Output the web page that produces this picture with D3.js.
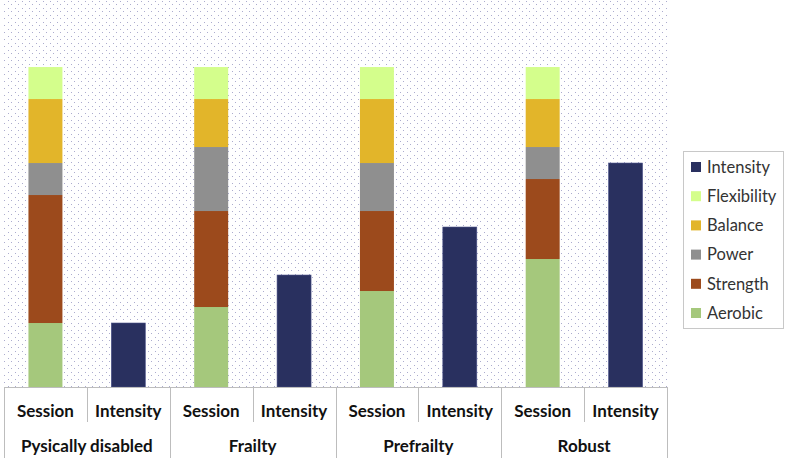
<!DOCTYPE html>
<html><head><meta charset="utf-8">
<script src="https://cdn.jsdelivr.net/npm/d3@7"></script>
<style>html,body{margin:0;padding:0;background:#fff;}svg{display:block;}</style>
</head><body>
<svg id="chart" width="789" height="465"></svg>
<script>
const groups = ["Pysically disabled", "Frailty", "Prefrailty", "Robust"];
const subLabels = ["Session", "Intensity"];
const aerobic     = [4, 5, 6, 8];
const strength    = [8, 6, 5, 5];
const power       = [2, 4, 3, 2];
const balance     = [4, 3, 4, 3];
const flexibility = [2, 2, 2, 2];
const intensity   = [4, 7, 10, 14];
const stackSeries = ["Aerobic", "Strength", "Power", "Balance", "Flexibility"];
const legendOrder = ["Intensity", "Flexibility", "Balance", "Power", "Strength", "Aerobic"];
const colors = {Aerobic:"#a5c87c", Strength:"#9c4a1c", Power:"#8f8f8f", Balance:"#e2b52a", Flexibility:"#d4fe8c", Intensity:"#29305f"};

const svg = d3.select("#chart");
const pLeft = 4, pRight = 667, pTop = 0, pBottom = 387;

// pattern
const defs = svg.append("defs");
const pat = defs.append("pattern").attr("id","dots").attr("patternUnits","userSpaceOnUse")
  .attr("width",7).attr("height",7);
pat.append("rect").attr("x",0).attr("y",0).attr("width",7).attr("height",7).attr("fill","#fff");
pat.append("rect").attr("x",1).attr("y",1).attr("width",1).attr("height",1).attr("fill","#acacce");
pat.append("rect").attr("x",4).attr("y",4).attr("width",1).attr("height",1).attr("fill","#acacce");
svg.append("rect").attr("x",pLeft).attr("y",pTop).attr("width",pRight-pLeft).attr("height",pBottom-pTop).attr("fill","url(#dots)");

const keys = [];
groups.forEach(g => subLabels.forEach(s => keys.push(g + "|" + s)));
const x = d3.scaleBand().domain(keys).range([pLeft, pRight]).paddingInner(0.59).paddingOuter(0.295);
const step = x.step();
const y = d3.scaleLinear().domain([0, 24.19]).range([pBottom, pTop]);

// stacked data
const rows = groups.map((g,i) => ({key: g+"|Session", Aerobic:aerobic[i], Strength:strength[i], Power:power[i], Balance:balance[i], Flexibility:flexibility[i]}));
const stacked = d3.stack().keys(stackSeries)(rows);
stacked.forEach(layer => {
  svg.append("g").selectAll("rect").data(layer).join("rect")
    .attr("x", d => x(d.data.key))
    .attr("width", x.bandwidth())
    .attr("y", d => y(d[1]))
    .attr("height", d => y(d[0]) - y(d[1]))
    .attr("fill", colors[layer.key]);
});
svg.append("g").selectAll("rect").data(groups).join("rect")
  .attr("x", (g) => x(g+"|Intensity"))
  .attr("width", x.bandwidth())
  .attr("y", (g,i) => y(intensity[i]))
  .attr("height", (g,i) => pBottom - y(intensity[i]))
  .attr("fill", colors.Intensity)
  .attr("stroke", "#4a5088").attr("stroke-width", 0.6);

// axis
const ax = svg.append("g").attr("stroke", "#bdbdbd").attr("stroke-width", 1);
ax.append("line").attr("x1", pLeft).attr("x2", pRight).attr("y1", pBottom+0.5).attr("y2", pBottom+0.5);
groups.forEach((g,i) => {
  const gx = Math.round(x(g+"|Session") - x.paddingOuter()*step);
  ax.append("line").attr("x1", gx+0.5).attr("x2", gx+0.5).attr("y1", pBottom).attr("y2", 458);
  const sx = Math.round(x(g+"|Session") + x.bandwidth()/2 + step/2);
  ax.append("line").attr("x1", sx+0.5).attr("x2", sx+0.5).attr("y1", pBottom).attr("y2", 422);
});
ax.append("line").attr("x1", pRight+0.5).attr("x2", pRight+0.5).attr("y1", pBottom).attr("y2", 458);

const tx = svg.append("g").attr("font-family","Lato, 'Open Sans', sans-serif").attr("font-weight","bold")
  .attr("font-size", 17).attr("fill","#111").attr("text-anchor","middle");
keys.forEach(k => {
  tx.append("text").attr("x", x(k) + x.bandwidth()/2).attr("y", 417).text(k.split("|")[1]);
});
groups.forEach(g => {
  tx.append("text").attr("x", x(g+"|Session") + x.bandwidth()/2 + step/2).attr("y", 452).text(g);
});

// legend
const lg = svg.append("g");
lg.append("rect").attr("x", 683.5).attr("y", 151.5).attr("width", 100).attr("height", 177)
  .attr("fill","#fff").attr("stroke","#c8c8c8");
legendOrder.forEach((s,i) => {
  const cy = 167 + i*29.2;
  lg.append("rect").attr("x", 691).attr("y", cy-5).attr("width", 10).attr("height", 10).attr("fill", colors[s]);
  lg.append("text").attr("x", 707).attr("y", cy+5.8).attr("font-family","Lato, 'Open Sans', sans-serif")
    .attr("font-size", 16.5).attr("fill","#333").text(s);
});
</script>
</body></html>
